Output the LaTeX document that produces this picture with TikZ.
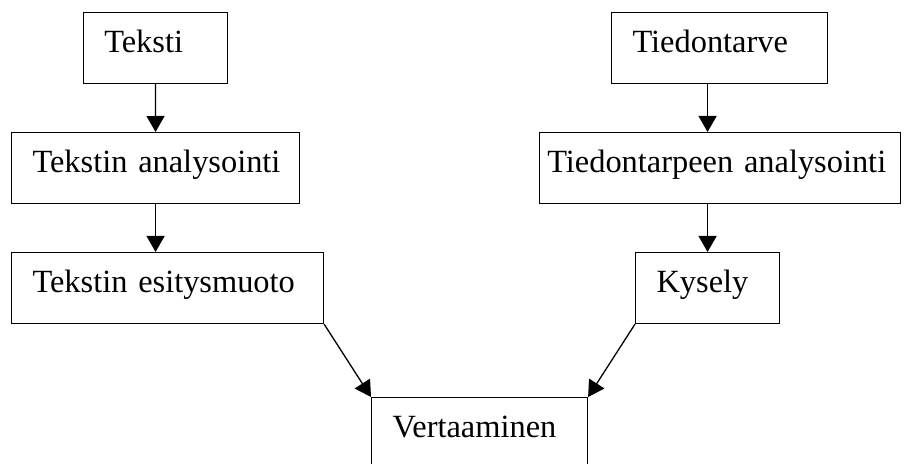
\documentclass[tikz,border=0pt]{standalone}
\usepackage{fontspec}
\setmainfont{Liberation Serif}
\usetikzlibrary{arrows.meta}
\begin{document}
\begin{tikzpicture}[x=0.5pt,y=-0.5pt,
  box/.style={draw, line width=0.55pt, anchor=north west, inner xsep=10.5pt, inner ysep=0pt,
    text height=20pt, text depth=15.5pt, align=left, font=\fontsize{16.2}{19}\selectfont},
  arr/.style={line width=0.65pt, -{Triangle[length=8pt,width=9pt]}}]
\useasboundingbox (0,0) rectangle (914,464);
\clip (0,0) rectangle (914,464);
\node[box, text width=51.2pt] (teksti) at (82.7,12) {Teksti};
\node[box, text width=123pt] (ta) at (11,132) {\rlap{Tekstin analysointi}};
\node[box, text width=135pt] (te) at (11,252) {\rlap{Tekstin esitysmuoto}};
\node[box, text width=87pt] (tt) at (611,12) {Tiedontarve};
\node[box, inner xsep=4pt, text width=172.5pt] (tpa) at (538.7,132) {\rlap{Tiedontarpeen analysointi}};
\node[box, text width=51pt] (ky) at (635,252) {Kysely};
\node[box, text width=87pt] (ve) at (371,397) {Vertaaminen};
\draw[arr] (teksti.south) -- (ta.north);
\draw[arr] (ta.south) -- (ta.south |- te.north);
\draw[arr] (ky.north |- tt.south) -- (ky.north |- tpa.north);
\draw[arr] (ky.north |- tpa.south) -- (ky.north);
\draw[arr] (te.south east) -- (ve.north west);
\draw[arr] (ky.south west) -- (ve.north east);
\end{tikzpicture}
\end{document}
